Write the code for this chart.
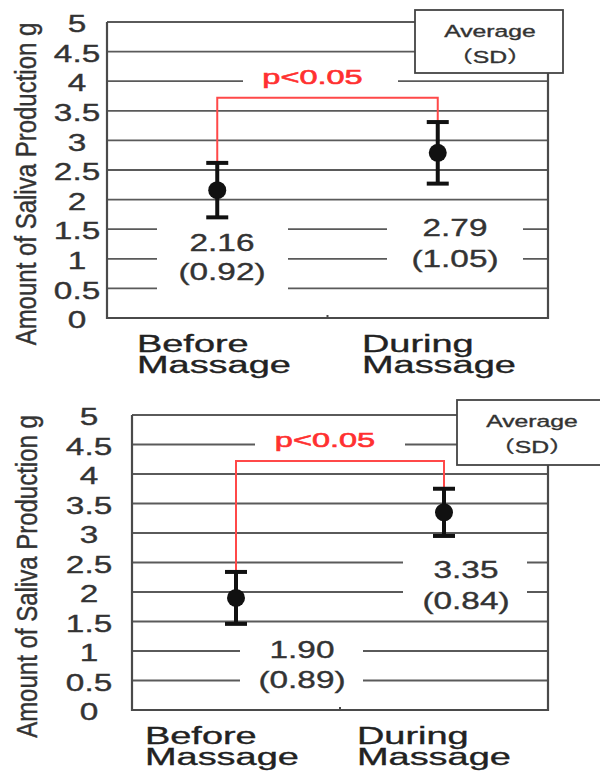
<!DOCTYPE html>
<html>
<head>
<meta charset="utf-8">
<script src="https://cdn.jsdelivr.net/npm/d3@7"></script>
<style>
  body { margin: 0; background: #fff; }
  text { font-family: 'Liberation Sans', Arial, 'Noto Sans CJK JP', sans-serif; fill: #333; stroke: #333; stroke-width: 0.35px; }
</style>
</head>
<body>
<div id="chart"></div>
<script>
// data

var categories = [['Before', 'Massage'], ['During', 'Massage']]
var yTicks = [0, 0.5, 1, 1.5, 2, 2.5, 3, 3.5, 4, 4.5, 5]

// chart 1
var means1 = [2.16, 2.79]
var sds1 = [0.92, 1.05]
var errs1 = [0.46, 0.52]
var bracket1 = 3.72

// chart 2
var means2 = [1.9, 3.35]
var sds2 = [0.89, 0.84]
var errs2 = [0.44, 0.4]
var bracket2 = 4.22

var pLabel = 'p<0.05'
var legendLines = ['Average', '（SD）']
var yTitle = 'Amount of Saliva Production g'

var svg = d3
  .select('#chart')
  .append('svg')
  .attr('width', 600)
  .attr('height', 775)

// layout for each panel (pixels)
var panels = [
  {
    means: means1, sds: sds1, errs: errs1, bracket: bracket1,
    left: 107, right: 548, top: 22, bottom: 318,
    tickX: 77, titleX: 26,
    legend: { x: 415, y: 10, w: 148, h: 63 },
    pMask: { x: 243, w: 155, y0: 4.25, y1: 3.8 },
    catX: [137, 362],
    labels: [
      { cx: 222, v1: 1.27, v2: 0.78, x0: 157, x1: 288, y0: 1.75, y1: 0.3 },
      { cx: 455, v1: 1.52, v2: 1.01, x0: 387, x1: 523, y0: 1.8, y1: 0.75 }
    ]
  },
  {
    means: means2, sds: sds2, errs: errs2, bracket: bracket2,
    left: 132, right: 548, top: 415, bottom: 710,
    tickX: 89, titleX: 27,
    legend: { x: 457, y: 400, w: 150, h: 65 },
    pMask: { x: 255, w: 150, y0: 4.75, y1: 4.3 },
    catX: [145, 357],
    labels: [
      { cx: 302, v1: 1.02, v2: 0.51, x0: 240, x1: 363, y0: 1.3, y1: 0.25 },
      { cx: 466, v1: 2.37, v2: 1.86, x0: 403, x1: 527, y0: 2.8, y1: 1.7 }
    ]
  }
]

panels.forEach(function(p) {
  var g = svg.append('g')

  var xPositionScale = d3
    .scaleBand()
    .domain([0, 1])
    .range([p.left, p.right])

  var yPositionScale = d3
    .scaleLinear()
    .domain([0, 5])
    .range([p.bottom, p.top])

  var xc = function(i) {
    return xPositionScale(i) + xPositionScale.bandwidth() / 2
  }

  // gridlines
  g.selectAll('.grid')
    .data(yTicks.slice(1))
    .enter()
    .append('line')
    .attr('x1', p.left)
    .attr('x2', p.right)
    .attr('y1', d => yPositionScale(d))
    .attr('y2', d => yPositionScale(d))
    .attr('stroke', '#5a5a5a')
    .attr('stroke-width', 1.8)

  // white boxes behind value labels
  g.selectAll('.mask')
    .data(p.labels)
    .enter()
    .append('rect')
    .attr('x', d => d.x0)
    .attr('width', d => d.x1 - d.x0)
    .attr('y', d => yPositionScale(d.y0))
    .attr('height', d => yPositionScale(d.y1) - yPositionScale(d.y0))
    .attr('fill', '#fff')

  g.append('rect')
    .attr('x', p.pMask.x)
    .attr('width', p.pMask.w)
    .attr('y', yPositionScale(p.pMask.y0))
    .attr('height', yPositionScale(p.pMask.y1) - yPositionScale(p.pMask.y0))
    .attr('fill', '#fff')

  // axes
  g.append('path')
    .attr('d', 'M' + p.left + ',' + p.top + 'V' + p.bottom + 'H' + p.right + 'V' + (p.legend.y + p.legend.h))
    .attr('fill', 'none')
    .attr('stroke', '#4a4a4a')
    .attr('stroke-width', 2.2)

  // tiny category boundary tick
  g.append('line')
    .attr('x1', xPositionScale(1))
    .attr('x2', xPositionScale(1))
    .attr('y1', p.bottom)
    .attr('y2', p.bottom - 3)
    .attr('stroke', '#4a4a4a')
    .attr('stroke-width', 2)

  // tick labels
  g.selectAll('.tick-label')
    .data(yTicks)
    .enter()
    .append('text')
    .attr('transform', d => 'translate(' + p.tickX + ',' + (yPositionScale(d) + 2) + ') scale(1.45,1)')
    .attr('text-anchor', 'middle')
    .attr('dy', '0.36em')
    .attr('font-size', 23)
    .text(d => d)

  // y title
  g.append('text')
    .attr('transform', 'translate(' + p.titleX + ',' + (p.top + p.bottom + 28) / 2 + ') scale(1.2,1) rotate(-90)')
    .attr('text-anchor', 'middle')
    .attr('dy', '0.36em')
    .attr('font-size', 24)
    .text(yTitle)

  // category labels, two lines each
  categories.forEach(function(lines, i) {
    var t = g.append('text')
      .attr('transform', 'translate(' + p.catX[i] + ',' + (p.bottom + 34) + ') scale(1.58,1)')
      .attr('font-size', 24)
      .style('fill', '#222')
      .style('stroke', '#222')
    lines.forEach(function(s, j) {
      t.append('tspan')
        .attr('x', 0)
        .attr('dy', j === 0 ? 0 : 21)
        .text(s)
    })
  })

  // value labels
  g.selectAll('.value-label')
    .data(p.labels)
    .enter()
    .append('text')
    .attr('transform', (d, i) => 'translate(' + d.cx + ',' + yPositionScale(d.v1) + ') scale(1.45,1)')
    .attr('text-anchor', 'middle')
    .attr('dy', '0.36em')
    .attr('font-size', 23)
    .text((d, i) => p.means[i].toFixed(2))

  g.selectAll('.sd-label')
    .data(p.labels)
    .enter()
    .append('text')
    .attr('transform', (d, i) => 'translate(' + d.cx + ',' + yPositionScale(d.v2) + ') scale(1.45,1)')
    .attr('text-anchor', 'middle')
    .attr('dy', '0.36em')
    .attr('font-size', 23)
    .text((d, i) => '(' + p.sds[i].toFixed(2) + ')')

  // significance bracket
  var yb = yPositionScale(p.bracket)
  g.append('path')
    .attr('d',
      'M' + xc(0) + ',' + yPositionScale(p.means[0] + p.errs[0]) +
      'V' + yb + 'H' + xc(1) +
      'V' + yPositionScale(p.means[1] + p.errs[1]))
    .attr('fill', 'none')
    .attr('stroke', '#ff4848')
    .attr('stroke-width', 2)

  g.append('text')
    .attr('transform', 'translate(' + ((xc(0) + xc(1)) / 2 - 15) + ',' + (yb - 14) + ') scale(1.55,1)')
    .attr('text-anchor', 'middle')
    .attr('font-size', 21)
    .style('fill', '#ff3030')
    .style('stroke', '#ff3030')
    .style('stroke-width', '0.6px')
    .text(pLabel)

  // error bars
  var bars = g.selectAll('.err')
    .data(p.means)
    .enter()
    .append('g')

  bars.append('line')
    .attr('x1', (d, i) => xc(i))
    .attr('x2', (d, i) => xc(i))
    .attr('y1', (d, i) => yPositionScale(d + p.errs[i]))
    .attr('y2', (d, i) => yPositionScale(d - p.errs[i]))
    .attr('stroke', '#111')
    .attr('stroke-width', 4)

  bars.append('line')
    .attr('x1', (d, i) => xc(i) - 11)
    .attr('x2', (d, i) => xc(i) + 11)
    .attr('y1', (d, i) => yPositionScale(d + p.errs[i]))
    .attr('y2', (d, i) => yPositionScale(d + p.errs[i]))
    .attr('stroke', '#111')
    .attr('stroke-width', 4)

  bars.append('line')
    .attr('x1', (d, i) => xc(i) - 11)
    .attr('x2', (d, i) => xc(i) + 11)
    .attr('y1', (d, i) => yPositionScale(d - p.errs[i]))
    .attr('y2', (d, i) => yPositionScale(d - p.errs[i]))
    .attr('stroke', '#111')
    .attr('stroke-width', 4)

  bars.append('circle')
    .attr('cx', (d, i) => xc(i))
    .attr('cy', d => yPositionScale(d))
    .attr('r', 9)
    .attr('fill', '#111')

  // legend box
  g.append('rect')
    .attr('x', p.legend.x)
    .attr('y', p.legend.y)
    .attr('width', p.legend.w)
    .attr('height', p.legend.h)
    .attr('fill', '#fff')
    .attr('stroke', '#444')
    .attr('stroke-width', 1.8)

  legendLines.forEach(function(t, j) {
    g.append('text')
      .attr('transform', 'translate(' + (p.legend.x + 75) + ',' + (p.legend.y + 27 + j * 26) + ') scale(1.5,1)')
      .attr('text-anchor', 'middle')
      .attr('font-size', 16.5)
      .text(t)
  })
})
</script>
</body>
</html>
